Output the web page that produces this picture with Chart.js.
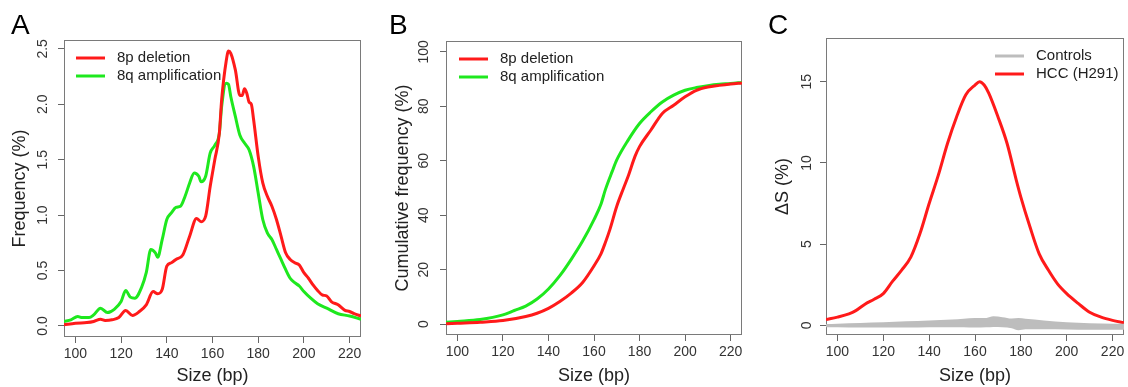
<!DOCTYPE html>
<html lang="en">
<head>
  <meta charset="UTF-8">
  <title>Fragment size distributions</title>
  <script src="https://cdn.jsdelivr.net/npm/chart.js@4"></script>
  <style>
    body { margin: 0; background: #fff; }
    .wrap { position: relative; width: 1128px; height: 387px; overflow: hidden;
            font-family: "Liberation Sans", Arial, sans-serif; }
    .panel { position: absolute; top: 0; width: 376px; height: 387px; }
    .tag { position: absolute; top: 9px; font-size: 28px; color: #000; }
  </style>
</head>
<body>
  <div class="wrap">
    <div class="panel" style="left:0"><canvas id="chartA" width="376" height="387"></canvas></div>
    <div class="panel" style="left:376px"><canvas id="chartB" width="376" height="387"></canvas></div>
    <div class="panel" style="left:752px"><canvas id="chartC" width="376" height="387"></canvas></div>
    <div class="tag" style="left:11px">A</div>
    <div class="tag" style="left:389px">B</div>
    <div class="tag" style="left:768px">C</div>
  </div>

  <script>
    // --- data ---
    const sizeTicks = [100, 120, 140, 160, 180, 200, 220];

    // A: frequency (%)
    const sizeDelA = [95,100,105,108,111,113,116,119,122,125,128,131,134,136,138,140,142,144,147,150,153,155,157,159,161,163,164,166,167,168,170,172,173,174,175,176,177,178,180,182,184,186,188,190,192,194,196,198,200,202,204,206,208,210,212,215,218,220,222,225];
    const freqDel8p = [0.01,0.025,0.03,0.04,0.06,0.05,0.055,0.075,0.14,0.095,0.13,0.19,0.31,0.29,0.33,0.54,0.57,0.60,0.64,0.81,0.97,0.94,0.99,1.26,1.50,1.74,2.04,2.39,2.48,2.46,2.31,2.08,2.08,2.14,2.10,2.02,2.00,1.86,1.53,1.29,1.17,1.08,0.96,0.81,0.66,0.60,0.57,0.55,0.48,0.43,0.37,0.32,0.28,0.27,0.22,0.19,0.14,0.13,0.11,0.09];
    const sizeAmpA = [95,98,101,103,106,108,111,114,117,120,122,124,126,129,131,133,135,136,138,140,142,144,146,148,150,152,154,155,157,159,161,163,164,166,167,168,170,172,174,176,178,180,182,184,186,188,190,192,194,196,198,200,203,206,210,215,220,225];
    const freqAmp8q = [0.04,0.055,0.085,0.075,0.075,0.10,0.16,0.12,0.15,0.22,0.32,0.26,0.25,0.35,0.48,0.69,0.66,0.62,0.78,0.96,1.02,1.07,1.08,1.17,1.29,1.38,1.35,1.30,1.35,1.56,1.63,1.74,1.98,2.19,2.18,2.07,1.89,1.72,1.65,1.59,1.44,1.20,0.96,0.84,0.78,0.69,0.60,0.51,0.43,0.39,0.36,0.31,0.25,0.20,0.16,0.11,0.09,0.06];
    const freqTicks = [0, 0.5, 1, 1.5, 2, 2.5];

    // B: cumulative frequency (%)
    const sizeDelB = [95,100,110,120,130,135,140,145,150,155,160,163,165,167,170,173,175,178,180,185,190,195,200,205,210,215,220,225];
    const cumDel8p = [0.1,0.3,0.7,1.3,2.8,4.0,5.8,8.3,11.4,15.3,21.4,25.7,30,34.8,43.3,50,54.3,61.6,65.2,71.3,77.4,80.4,83.5,85.9,87.1,87.7,88.2,88.6];
    const sizeAmpB = [95,100,110,120,125,130,135,140,145,150,155,160,163,165,168,170,175,180,185,190,195,200,205,210,215,220,225];
    const cumAmp8q = [0.7,1.0,1.7,3.4,5.0,6.6,9.2,12.9,17.8,23.8,30.5,38.4,43.9,49.4,56.1,60.3,67.6,73.7,78.0,81.6,84.1,85.9,86.9,87.6,88.1,88.4,88.8];
    const cumTicks = [0, 20, 40, 60, 80, 100];

    // C: delta S (%)
    const sizeHcc = [95,100,105,108,112,116,120,124,128,132,136,140,144,148,152,156,160,162,164,166,170,174,178,180,184,188,192,196,200,205,210,215,220,225];
    const deltaHcc = [0.35,0.5,0.7,0.9,1.3,1.6,1.95,2.7,3.4,4.2,5.65,7.5,9.25,11.2,12.85,14.2,14.8,15.0,14.8,14.3,12.85,11.2,8.95,7.9,6.05,4.4,3.4,2.55,1.95,1.35,0.8,0.5,0.3,0.15];
    const sizeCtrl = [95,100,110,120,130,140,150,155,160,165,168,172,176,179,182,190,200,210,220,225];
    const ctrlUpper = [0.08,0.1,0.14,0.18,0.25,0.3,0.35,0.4,0.45,0.45,0.55,0.5,0.42,0.45,0.4,0.3,0.18,0.12,0.1,0.1];
    const ctrlLower = [-0.12,-0.12,-0.14,-0.14,-0.14,-0.12,-0.12,-0.12,-0.14,-0.12,-0.1,-0.12,-0.18,-0.3,-0.24,-0.24,-0.26,-0.28,-0.28,-0.28];
    const deltaTicks = [0, 5, 10, 15];

    const RED = '#ff1a1a', GREEN = '#1ee81e', GREY = '#bdbdbd';
    const FONT = '"Liberation Sans", Arial, sans-serif';

    const pts = (xs, ys) => xs.map((x, i) => ({ x: x, y: ys[i] }));

    // plot frame like R's box()
    const boxPlugin = {
      id: 'box',
      beforeDatasetsDraw(chart) {
        const { ctx, chartArea: a } = chart;
        ctx.save();
        ctx.strokeStyle = '#7a7a7a';
        ctx.lineWidth = 1;
        ctx.strokeRect(a.left + 0.5, a.top + 0.5, a.width - 1, a.height - 1);
        ctx.restore();
      }
    };

    // legend drawn inside the plot, no frame
    const legendPlugin = {
      id: 'inLegend',
      afterDraw(chart, args, opts) {
        const { ctx, chartArea } = chart;
        ctx.save();
        ctx.font = '15px ' + FONT;
        ctx.textBaseline = 'middle';
        opts.items.forEach((it, i) => {
          const x = chartArea.left + opts.dx;
          const y = chartArea.top + opts.dy + i * 18;
          ctx.strokeStyle = it.color;
          ctx.lineWidth = 3;
          ctx.beginPath(); ctx.moveTo(x, y); ctx.lineTo(x + 29, y); ctx.stroke();
          ctx.fillStyle = '#222';
          ctx.fillText(it.text, x + 41, y);
        });
        ctx.restore();
      }
    };

    function makePanel(id, p) {
      return new Chart(document.getElementById(id), {
        type: 'line',
        data: { datasets: p.datasets },
        options: {
          responsive: false,
          animation: false,
          layout: { padding: { top: p.area.top, right: 376 - p.area.right, left: 0, bottom: 0 } },
          elements: {
            point: { radius: 0 },
            line: { cubicInterpolationMode: 'monotone', borderWidth: 3 }
          },
          plugins: {
            legend: { display: false },
            tooltip: { enabled: false },
            inLegend: p.legend
          },
          scales: {
            x: {
              type: 'linear', min: 95, max: 225,
              afterBuildTicks: s => { s.ticks = sizeTicks.map(v => ({ value: v })); },
              afterFit: s => { s.height = 387 - p.area.bottom; },
              grid: { drawOnChartArea: false, tickLength: 6, tickColor: '#666' },
              border: { display: false },
              ticks: { color: '#333', font: { size: 14, family: FONT }, padding: 3 },
              title: { display: true, text: 'Size (bp)', color: '#222', font: { size: 18, family: FONT }, padding: 0 }
            },
            y: {
              type: 'linear', min: p.yMin, max: p.yMax,
              afterBuildTicks: s => { s.ticks = p.yTicks.map(v => ({ value: v })); },
              afterFit: s => { s.width = p.area.left; },
              grid: { drawOnChartArea: false, tickLength: 6, tickColor: '#666' },
              border: { display: false },
              ticks: {
                color: '#333', font: { size: 14, family: FONT }, padding: p.yPad,
                minRotation: 90, maxRotation: 90, crossAlign: 'center',
                callback: p.yFmt
              },
              title: { display: true, text: p.yTitle, color: '#222', font: { size: 18, family: FONT },
                       padding: { top: p.titlePad, bottom: 0 } }
            }
          }
        },
        plugins: [boxPlugin, legendPlugin]
      });
    }

    makePanel('chartA', {
      area: { left: 64, right: 361, top: 40, bottom: 337 },
      yMin: -0.1, yMax: 2.58, yTicks: freqTicks, yPad: 5, titlePad: 9,
      yFmt: v => Number(v).toFixed(1),
      yTitle: 'Frequency (%)',
      datasets: [
        { label: '8p deletion', data: pts(sizeDelA, freqDel8p), borderColor: RED },
        { label: '8q amplification', data: pts(sizeAmpA, freqAmp8q), borderColor: GREEN }
      ],
      legend: { dx: 12, dy: 18, items: [{ text: '8p deletion', color: RED }, { text: '8q amplification', color: GREEN }] }
    });

    makePanel('chartB', {
      area: { left: 70, right: 366, top: 41, bottom: 335 },
      yMin: -4, yMax: 104, yTicks: cumTicks, yPad: 4, titlePad: 16,
      yFmt: v => String(v),
      yTitle: 'Cumulative frequency (%)',
      datasets: [
        { label: '8p deletion', data: pts(sizeDelB, cumDel8p), borderColor: RED },
        { label: '8q amplification', data: pts(sizeAmpB, cumAmp8q), borderColor: GREEN }
      ],
      legend: { dx: 13, dy: 18, items: [{ text: '8p deletion', color: RED }, { text: '8q amplification', color: GREEN }] }
    });

    makePanel('chartC', {
      area: { left: 74, right: 372, top: 38, bottom: 335 },
      yMin: -0.6, yMax: 17.7, yTicks: deltaTicks, yPad: 5, titlePad: 20,
      yFmt: v => String(v),
      yTitle: 'ΔS (%)',
      datasets: [
        { label: 'Controls low', data: pts(sizeCtrl, ctrlLower), borderWidth: 0, borderColor: GREY, fill: false },
        { label: 'Controls', data: pts(sizeCtrl, ctrlUpper), borderWidth: 0, borderColor: GREY, backgroundColor: GREY, fill: '-1' },
        { label: 'HCC (H291)', data: pts(sizeHcc, deltaHcc), borderColor: RED }
      ],
      legend: { dx: 169, dy: 18, items: [{ text: 'Controls', color: GREY }, { text: 'HCC (H291)', color: RED }] }
    });
  </script>
</body>
</html>
